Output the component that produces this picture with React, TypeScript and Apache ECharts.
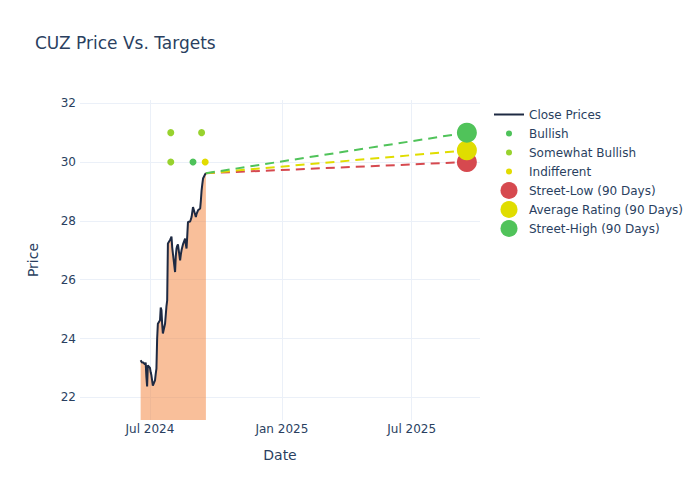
import React, { useEffect, useRef } from "react";
import * as echarts from "echarts";

const closeDates = [
  "2024-06-18", "2024-06-20", "2024-06-21", "2024-06-24", "2024-06-25", "2024-06-26", "2024-06-27", "2024-06-28",
  "2024-07-01", "2024-07-02", "2024-07-03", "2024-07-05", "2024-07-08", "2024-07-09", "2024-07-10", "2024-07-11",
  "2024-07-12", "2024-07-15", "2024-07-16", "2024-07-17", "2024-07-18", "2024-07-19", "2024-07-22", "2024-07-23",
  "2024-07-24", "2024-07-25", "2024-07-26", "2024-07-29", "2024-07-30", "2024-07-31", "2024-08-01", "2024-08-02",
  "2024-08-05", "2024-08-06", "2024-08-07", "2024-08-08", "2024-08-09", "2024-08-12", "2024-08-13", "2024-08-14",
  "2024-08-15", "2024-08-16", "2024-08-19", "2024-08-20", "2024-08-21", "2024-08-22", "2024-08-23", "2024-08-26",
  "2024-08-27", "2024-08-28", "2024-08-29", "2024-08-30", "2024-09-03", "2024-09-04", "2024-09-05", "2024-09-06",
  "2024-09-09", "2024-09-10", "2024-09-11", "2024-09-12", "2024-09-13", "2024-09-16", "2024-09-17",
];
const closePrices = [
  23.26, 23.18, 23.2, 23.12, 23.18, 22.7, 22.37, 23.09,
  23.0, 22.85, 22.75, 22.4, 22.58, 22.8, 22.98, 24.0,
  24.5, 24.62, 25.05, 24.97, 24.5, 24.17, 24.5, 24.8,
  25.1, 25.3, 27.23, 27.35, 27.4, 27.47, 27.1, 26.89,
  26.26, 26.8, 27.06, 27.15, 27.2, 26.66, 26.85, 27.0,
  27.1, 27.2, 27.4, 27.2, 27.06, 27.5, 27.96, 27.98,
  28.05, 28.13, 28.3, 28.47, 28.13, 28.24, 28.3, 28.36,
  28.42, 28.7, 29.04, 29.25, 29.44, 29.59, 29.62,
];

const bullishDates = ["2024-08-30"];
const bullishValues = [30];
const somewhatBullishDates = ["2024-07-30", "2024-07-30", "2024-09-11"];
const somewhatBullishValues = [31, 30, 31];
const indifferentDates = ["2024-09-16"];
const indifferentValues = [30];

const targetStartDate = "2024-09-17";
const targetEndDate = "2025-09-16";
const lastClose = 29.62;
const streetLow = 30;
const averageRating = 30.4;
const streetHigh = 31;

const yTicks = [22, 24, 26, 28, 30, 32];
const xTickDates = ["2024-07-01", "2025-01-01", "2025-07-01"];
const monthNames = ["Jan", "Feb", "Mar", "Apr", "May", "Jun", "Jul", "Aug", "Sep", "Oct", "Nov", "Dec"];

const TEXT = "#2a3f5f";
const GRID = "#ebf0f8";
const FONT = "DejaVu Sans";
const LINE = "#1e2a43";

const C_LOW = "#d6494f";
const C_AVG = "#e0dd00";
const C_HIGH = "#50c35a";
const C_BULL = "#4ec25a";
const C_SBULL = "#98d22e";
const C_IND = "#e2dc00";

const dotIcon = "path://M0,0M17,17M5.5,8.5a3,3 0 1,0 6,0a3,3 0 1,0 -6,0z";
const lineIcon = "path://M0,0M30,17M0,7.5h30v2h-30z";

function ts(d: string) {
  const [y, m, dd] = d.split("-").map(Number);
  return new Date(y, m - 1, dd).getTime();
}

export default function App() {
  const ref = useRef<HTMLDivElement>(null);
  useEffect(() => {
    document.body.style.margin = "0";
    if (!ref.current) return;
    const chart = echarts.init(ref.current, null, { renderer: "svg" });
    const day = 86400000;
    const jul1 = ts("2024-07-01");
    const xMin = jul1 - 97.6 * day;
    const xMax = jul1 + 460.3 * day;

    const pair = (dates: string[], vals: number[]) => dates.map((d, i) => [ts(d), vals[i]]);
    const dashLine = (name: string, color: string, target: number) => ({
      name,
      type: "line",
      data: [[ts(targetStartDate), lastClose], [ts(targetEndDate), target]],
      symbol: "none",
      lineStyle: { color, width: 2, type: [9, 6] },
      itemStyle: { color },
      z: 3,
    });
    const targetDot = (name: string, color: string, target: number) => ({
      name,
      type: "scatter",
      data: [[ts(targetEndDate), target]],
      symbolSize: 20,
      itemStyle: { color, opacity: 1 },
      z: 5,
    });

    chart.setOption({
      animation: false,
      backgroundColor: "#ffffff",
      textStyle: { fontFamily: FONT },
      title: {
        text: "CUZ Price Vs. Targets",
        left: 35,
        top: 34,
        padding: 0,
        textStyle: { fontFamily: FONT, fontSize: 17, fontWeight: "normal", color: TEXT },
      },
      grid: { left: 80, right: 220, top: 100, bottom: 80, containLabel: false },
      legend: {
        orient: "vertical",
        left: 494,
        top: 106,
        padding: 0,
        itemWidth: 30,
        itemHeight: 17,
        itemGap: 2,
        textStyle: { fontFamily: FONT, fontSize: 12, color: TEXT },
        data: [
          { name: "Close Prices", icon: lineIcon, itemStyle: { color: LINE } },
          { name: "Bullish", icon: dotIcon, itemStyle: { color: C_BULL } },
          { name: "Somewhat Bullish", icon: dotIcon, itemStyle: { color: C_SBULL } },
          { name: "Indifferent", icon: dotIcon, itemStyle: { color: C_IND } },
          { name: "Street-Low (90 Days)", icon: "circle" },
          { name: "Average Rating (90 Days)", icon: "circle" },
          { name: "Street-High (90 Days)", icon: "circle" },
        ],
      },
      xAxis: {
        type: "value",
        min: xMin,
        max: xMax,
        name: "Date",
        nameLocation: "middle",
        nameGap: 28,
        nameTextStyle: { fontFamily: FONT, fontSize: 14, color: TEXT },
        axisLine: { show: false },
        axisTick: { show: false, customValues: xTickDates.map(ts) },
        splitLine: { show: true, lineStyle: { color: GRID, width: 1 } },
        axisLabel: {
          customValues: xTickDates.map(ts),
          margin: 3,
          fontFamily: FONT,
          fontSize: 12,
          color: TEXT,
          formatter: (v: number) => {
            const d = new Date(v);
            return monthNames[d.getMonth()] + " " + d.getFullYear();
          },
        },
      },
      yAxis: {
        type: "value",
        min: 21.23,
        max: 32.11,
        name: "Price",
        nameLocation: "middle",
        nameGap: 40,
        nameTextStyle: { fontFamily: FONT, fontSize: 14, color: TEXT },
        axisLine: { show: false },
        axisTick: { show: false, customValues: yTicks },
        splitLine: { show: true, lineStyle: { color: GRID, width: 1 } },
        axisLabel: { customValues: yTicks, margin: 4, fontFamily: FONT, fontSize: 12, color: TEXT },
      },
      series: [
        {
          name: "Close Prices",
          type: "line",
          data: pair(closeDates, closePrices),
          symbol: "none",
          lineStyle: { color: LINE, width: 2 },
          itemStyle: { color: LINE },
          areaStyle: { color: "rgba(244,128,54,0.5)", opacity: 1, origin: "start" },
          z: 2,
        },
        {
          name: "Bullish",
          type: "scatter",
          data: pair(bullishDates, bullishValues),
          symbolSize: 7,
          itemStyle: { color: C_BULL, opacity: 1 },
          z: 4,
        },
        {
          name: "Somewhat Bullish",
          type: "scatter",
          data: pair(somewhatBullishDates, somewhatBullishValues),
          symbolSize: 7,
          itemStyle: { color: C_SBULL, opacity: 1 },
          z: 4,
        },
        {
          name: "Indifferent",
          type: "scatter",
          data: pair(indifferentDates, indifferentValues),
          symbolSize: 7,
          itemStyle: { color: C_IND, opacity: 1 },
          z: 4,
        },
        dashLine("low-line", C_LOW, streetLow),
        dashLine("avg-line", C_AVG, averageRating),
        dashLine("high-line", C_HIGH, streetHigh),
        targetDot("Street-Low (90 Days)", C_LOW, streetLow),
        targetDot("Average Rating (90 Days)", C_AVG, averageRating),
        targetDot("Street-High (90 Days)", C_HIGH, streetHigh),
      ],
    });
    return () => chart.dispose();
  }, []);
  return <div ref={ref} style={{ width: 700, height: 500 }} />;
}
